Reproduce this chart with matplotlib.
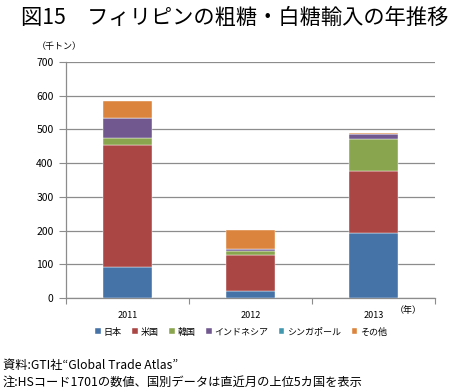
import matplotlib
matplotlib.use("Agg")
import matplotlib.pyplot as plt
import numpy as np

plt.rcParams["font.family"] = ["Noto Sans CJK JP", "DejaVu Sans"]

years = ["2011", "2012", "2013"]
countries = ["日本", "米国", "韓国", "インドネシア", "シンガポール", "その他"]
japan = [91, 21, 194]
usa = [364, 107, 184]
korea = [20, 11, 93]
indonesia = [58, 6, 14]
singapore = [1, 1, 2]
others = [51, 57, 2]
colors = ["#4572A7", "#AA4643", "#89A54E", "#71588F", "#4198AF", "#DB843D"]

series = [japan, usa, korea, indonesia, singapore, others]

fig = plt.figure(figsize=(4.5, 3.91), dpi=100)
ax = fig.add_axes([66 / 450, 1 - 298 / 391, 369 / 450, 236 / 391])

x = np.arange(len(years))
bottom = np.zeros(len(years))
for name, vals, c in zip(countries, series, colors):
    ax.bar(x, vals, 0.4, bottom=bottom, color=c, label=name,
           edgecolor="white", linewidth=0.3, zorder=3)
    bottom += np.array(vals)

ax.set_xlim(-0.5, len(years) - 0.5)
ax.set_ylim(0, 700)
ax.set_yticks(range(0, 701, 100))
ax.yaxis.grid(True, color="#8c8c8c", linewidth=0.9, zorder=0)
ax.tick_params(axis="y", labelsize=7.5, length=5, color="#8c8c8c", pad=4)

# ticks on category boundaries, labels in the middle
ax.set_xticks(np.arange(-0.5, len(years)), labels=[""] * (len(years) + 1))
ax.set_xticks(x, labels=years, minor=True)
ax.tick_params(axis="x", which="major", length=4, color="#8c8c8c")
ax.tick_params(axis="x", which="minor", length=0, labelsize=6.5, pad=9)

for s in ["top", "right"]:
    ax.spines[s].set_visible(False)
for s in ["left", "bottom"]:
    ax.spines[s].set_color("#8c8c8c")
    ax.spines[s].set_linewidth(0.9)

fig.text(0.521, 0.955, "図15　フィリピンの粗糖・白糖輸入の年推移",
         ha="center", va="center", fontsize=15.3)
fig.text(37 / 450, 1 - 47 / 391, "（千トン）", ha="left", va="center", fontsize=6.5)
fig.text(408 / 450, 1 - 311 / 391, "（年）", ha="center", va="center", fontsize=6.5)

fig.legend(loc="center", bbox_to_anchor=(0.536, 1 - 332 / 391), ncol=6,
           frameon=False, fontsize=6.5, handlelength=0.6, handleheight=0.6,
           handletextpad=0.3, columnspacing=1.2)

fig.text(3 / 450, 1 - 366 / 391, "資料:GTI社“Global Trade Atlas”",
         ha="left", va="center", fontsize=8.8)
fig.text(3 / 450, 1 - 382 / 391, "注:HSコード1701の数値、国別データは直近月の上位5カ国を表示",
         ha="left", va="center", fontsize=8.8)

fig.savefig("out.png", dpi=100)
